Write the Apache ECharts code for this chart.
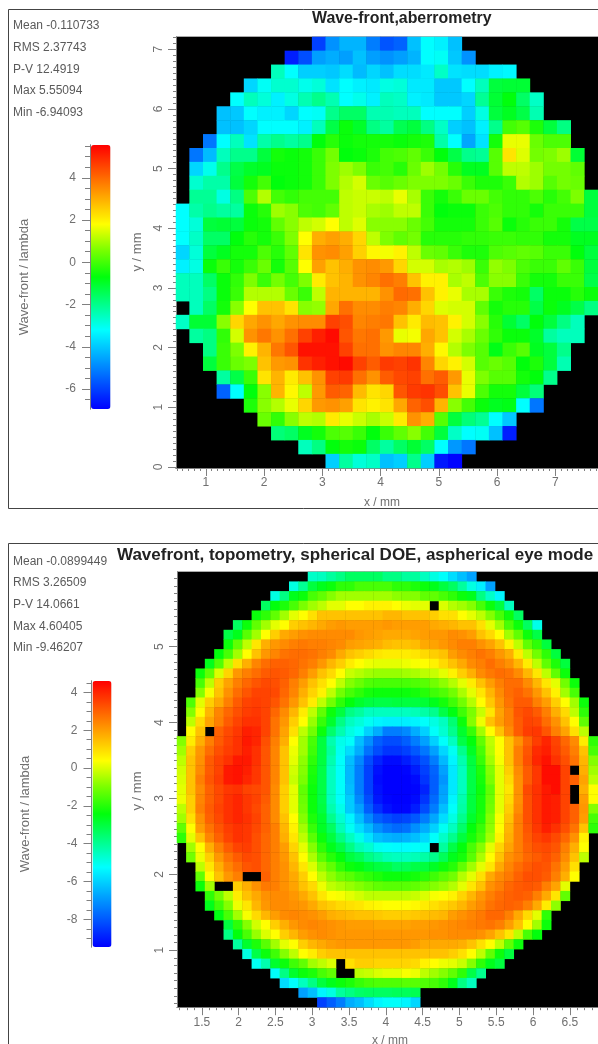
<!DOCTYPE html>
<html><head><meta charset="utf-8">
<style>html,body{margin:0;padding:0;background:#fff;overflow:hidden}#c{width:598px;height:1044px}</style>
<script src="https://cdn.jsdelivr.net/npm/echarts@6/dist/echarts.min.js"></script>
</head><body><div id="c"></div>
<script>
const _ = null;
// Colour scale shared by both maps (blue -> cyan -> green -> yellow -> red)
const colorStops = ['#0000ff','#0055ff','#00aaff','#00ffff','#00ff86','#00ff0c','#78ff00','#ffff00','#ffaa00','#ff5500','#ff0000'];

const frontTitle = 'Wave-front,aberrometry';
const frontStats = ['Mean -0.110733','RMS 2.37743','P-V 12.4919','Max 5.55094','Min -6.94093'];
const frontMin = -6.94093, frontMax = 5.55094;
const frontXTicks = [1,2,3,4,5,6,7];
const frontYTicks = [0,1,2,3,4,5,6,7];
const frontBarTicks = [-6,-4,-2,0,2,4];
// first occupied column of each row, top row first
const frontStart = [10,8,7,5,4,3,3,2,1,1,1,1,0,0,0,0,0,0,0,1,0,1,2,2,3,3,5,6,7,9,11];
const frontRows = [
[-6,-4.8,-4.3,-4.3,-5.1,-5.7,-5.5,-4.1,-3.2,-3.4,-4.1],
[-6.5,-5.8,-4.6,-4.4,-4.6,-4.1,-4.6,-4.8,-4.6,-4.3,-3.2,-3.1,-4,-4.8],
[-2.5,-3.2,-3.9,-3.9,-4,-3.7,-4.2,-3.8,-4.1,-3.7,-3.7,-3.5,-2.6,-3.6,-3.7,-3.7,-3.4,-3.3],
[-3.8,-3.1,-2.7,-2.7,-3,-2.8,-3.6,-3.2,-3.4,-3.5,-2.9,-2.8,-3.5,-3.5,-4,-4,-3.2,-2.5,-1.2,-1.1,-1.1],
[-3.2,-2.5,-2.8,-3.4,-2.9,-2.4,-2,-2.4,-3.2,-3,-3.4,-2.5,-2.6,-3.4,-3.5,-4,-4,-3.8,-2.1,-1.1,-.7,-1.6,-2.6],
[-4.1,-4,-3.2,-3.4,-3.4,-3.8,-3.2,-3.1,-2,-1.6,-1.6,-2.4,-2.4,-2.5,-2.5,-3.2,-3.2,-3.2,-3.9,-2.9,-1.2,-.9,-1.3,-2.4],
[-4.1,-4.1,-3.8,-3.2,-3.2,-3.2,-3.4,-2.5,-1.3,-.6,-1,-1.9,-2.2,-1.4,-1.2,-1.9,-2.6,-3.9,-4.1,-3.4,-2,0,.2,-.4,-1.2,-1.9],
[-5.2,-3.2,-2.5,-3.6,-2.3,-2,-2.2,-2,-.7,-.3,-.6,-.5,-.5,-.5,-.6,-.5,-.4,-2.3,-3.2,-4.5,-3.6,-.5,1.6,1.6,.4,.1,.1],
[-5.2,-4.2,-2.5,-2,-2,-1.2,-.5,-.6,-.5,-.1,.5,-.7,-.6,-.4,0,.1,.3,-.1,-.7,-1.3,-2,-2.1,.2,2.2,1.5,.5,.6,.9,-1.1],
[-3.8,-3,-2,-1.3,-1,-.9,-.6,-.6,-.5,-.1,.6,.9,.6,-.1,0,-.3,.4,.9,.5,-.3,-.9,-.9,.2,1.2,1.2,.9,.5,.5,.3],
[-2.7,-2.3,-2.3,-1.2,-.5,0,-.7,-.6,-.5,-.1,.6,1.1,1.4,.4,.2,.4,.6,.6,.6,.4,-.1,-.4,-.4,-.1,1.1,.9,.2,.5,.4],
[-2.1,-2.1,-2.9,-1.9,.1,1.1,0,-.2,0,0,0,1.2,1.3,1.3,1.2,1.6,1,-.1,-.5,-.1,.4,.4,0,-.2,-.2,.1,-.3,0,.6,-1.2],
[-3.2,-2.3,-2,-2.2,-2.2,-.6,-.3,.9,.7,.1,0,.3,1.2,1.3,1,.9,1.2,1.2,-.1,-.7,-.6,-.6,-.1,.1,-.2,-.2,-.5,-.1,-.1,-.1,-1.2],
[-3.2,-2.8,-1.2,-1.1,-1.2,-.6,-.5,.3,.7,1.2,1.4,1.8,1.2,1.5,.7,.7,.7,.4,0,-.5,-.5,-.5,-.1,.2,-.6,-.3,-.1,-.1,-.5,-1.3,-1.3],
[-3.2,-2.6,-1.6,-1.6,-.7,-.3,-.5,-.1,.6,1.8,3,3.2,3,2.4,1.2,.6,.3,.5,-.3,-.3,-.3,-.2,-.2,-.1,-.1,-.2,-.2,-.5,-.5,-.9,-.9],
[-3.8,-2.8,-1.2,-.9,-.5,-.5,.1,-.3,.3,2.2,3.4,3.5,3.2,2.5,1.9,1.7,2,1.2,.4,.3,-.1,-.4,-.4,.1,.2,.3,.2,-.1,-.1,-.7,-1.2],
[-3.4,-2.9,-.6,-.1,-.5,-.1,.4,-.5,.2,1.8,3.2,2.7,3,3.4,3.5,3.3,2.4,1.4,1.4,1,1.1,.9,-.1,.8,.6,.1,-.1,-.1,.3,-.1,-1.2],
[-2.5,-2.5,-1.6,-.6,-.2,.6,-.1,.5,0,.6,2.1,2.7,2.9,3.4,3.6,3.9,3.7,2.7,2,2,1,1.2,.1,.7,.7,-.1,-.5,-.5,-.1,-.1,-1.3],
[-2.5,-2.5,-1.9,-.6,-.1,1.1,1.1,1.1,.4,-.1,1.2,2.9,2.9,2.9,2.9,3.4,4,3.9,2.7,2,1.6,1,1,-.1,-.4,-.5,-1.6,-.6,-.6,-.3,-.6],
[-2.5,-1.6,-.5,.7,1.8,2.7,2.7,2.2,.7,.8,3.1,3.9,3.5,3.5,3.7,3.6,3,2.4,1.5,1.4,1.4,.3,-.5,-.3,-.3,-1.3,-.6,-.9,-1.3,-1.9],
[-2.6,-1.1,-1.1,.7,2.4,3.1,3.4,3.1,3.4,3.5,3.5,4.6,4.4,3.6,3.7,3.8,2.7,2.1,2.8,2.7,2,1.4,.7,-.3,-1.1,-1.6,-.7,-1.2,-1.9,-2.5],
[-2.2,-1.9,-.2,1.4,3.4,3.8,3.4,3.9,4.6,5.1,5.4,4.3,3.8,3.9,3.3,1.6,1.7,3.1,2.7,1.4,1,.4,-.2,-.6,-.6,-1,-2.2,-2.5,-2.5],
[-1.9,-.1,.6,2,2.9,3.8,4.3,5.3,5.3,5.3,4.6,3.9,3.9,3.4,3.6,3.6,3,1.9,1.1,.6,.2,-.8,-.1,.2,-.9,-1.2,-2],
[-1.2,-.1,.4,.6,2.7,3.3,3.4,4.8,5.1,5.3,5.4,4.6,4.2,4.7,4.6,4.8,3.6,2.4,2,1.4,.2,.4,.2,-.7,-.4,-1.2,-2.4],
[-2.2,-1.3,-.1,2.2,2.9,2.1,2.7,3.4,4.6,4.7,3.9,3.4,4.2,4.5,4.6,3.9,4.2,3.3,1.6,.6,.2,.2,-.5,-.7,-2],
[-5.5,-3.2,-.7,.7,2.9,1.9,1.2,3.3,4.2,4.1,2.8,2.2,2.4,4.3,4.7,4.8,4.4,2.7,1.6,.1,-.5,-.5,-1.2,-1.8],
[-.4,.7,1.1,1.6,2.4,3.3,3.4,3.2,2.2,2,2.2,3.1,4.1,4.4,2.9,.7,0,-.6,-.9,-.8,-3.2,-5.2],
[.4,-.2,.7,1.2,1.1,2.1,1.6,1.3,1,1.3,2.1,3.4,3,.2,-1.2,-1.8,-2.1,-3.2,-4],
[-1.8,-1.6,-.9,-.5,.1,.2,-.1,-.7,-.1,.3,.7,0,-1.2,-2.6,-3.2,-3.1,-4.1,-6.5],
[-2.5,-1.9,-.7,-.5,-.6,-1.6,-2.2,-1.6,-1.1,-1.6,-3.2,-4.7,-5.2],
[-3.9,-2.2,-2.8,-2.6,-4.1,-3.9,-2,-3.9,-6.6,-6.9]
];

const topoTitle = 'Wavefront, topometry, spherical DOE, aspherical eye mode';
const topoStats = ['Mean -0.0899449','RMS 3.26509','P-V 14.0661','Max 4.60405','Min -9.46207'];
const topoMin = -9.46207, topoMax = 4.60405;
const topoXTicks = [1.5,2,2.5,3,3.5,4,4.5,5,5.5,6,6.5];
const topoYTicks = [1,2,3,4,5];
const topoBarTicks = [-8,-6,-4,-2,0,2,4];
const topoStart = [14,12,10,9,8,6,5,5,4,3,2,2,2,1,1,1,1,0,0,0,0,0,0,0,0,0,0,0,1,1,2,2,2,3,3,4,5,5,6,7,8,10,11,13,15];
const topoRows = [
[-4.6,-4.5,-4.1,-3.8,-3.4,-3.4,-3.4,-3.4,-3.8,-3.8,-4.1,-4.1,-4.5,-4.9,-5.2,-5.8,-6.3,-6.8],
[-4.9,-4,-3,-2.6,-2.3,-1.9,-1.9,-1.6,-1.6,-1.6,-1.6,-1.9,-1.9,-2.1,-2.3,-2.6,-3,-3.4,-4.1,-4.9,-5.5,-6.8],
[-4.9,-3.8,-2.6,-2.3,-1.6,-1.3,-.9,-.6,-.6,-.6,-.6,-.6,-.6,-.8,-.9,-.9,-1.3,-1.3,-1.6,-1.9,-2.3,-2.6,-3.8,-4.6,-5.4],
[-3.4,-2.4,-2.1,-1.6,-1,-.6,-.3,.1,.1,.4,.4,.6,.6,.6,.4,.2,.1,.1,_,0,-.4,-.6,-.9,-1.6,-2.3,-3,-4.5],
[-2.3,-1.9,-1.3,-.6,.1,.4,.9,1.4,1.4,1.4,1.4,1.4,1.4,1.4,1.6,1.6,1.4,1.4,1.4,1.2,.9,.9,.4,.1,-.3,-.9,-1.6,-2.3,-3.4],
[-3.4,-2.3,-1.3,-.6,.1,.4,1.2,1.4,1.6,1.8,2,2.1,2,2,2,2,2.1,2,2,2,2,1.8,1.7,1.6,1.4,1.4,.9,.1,-.6,-1.6,-2.3,-3.4,-5],
[-3.1,-2.6,-1.4,-.6,.4,1.2,1.8,2,2.2,2.3,2.3,2.3,2.3,2.3,2.1,2,1.9,1.8,1.8,1.8,1.9,2,2.1,2.1,2.3,2.2,2,1.4,1,.4,-.6,-1.3,-2.3,-3.1],
[-2.3,-1.3,-.3,.8,1.7,2.1,2.3,2.5,2.6,2.5,2.5,2.4,2.3,2,1.9,1.8,1.7,1.5,1.4,1.4,1.5,1.8,1.9,2.1,2.3,2.5,2.5,2.2,1.9,1.4,.6,-.3,-1.3,-1.9,-3],
[-2.4,-1.6,-.6,.4,1.4,2.1,2.4,2.7,2.8,2.8,2.7,2.5,2.3,1.8,1.4,1.2,1,.8,.7,.7,.7,.8,1,1.2,1.4,2,2.3,2.5,2.7,2.5,2.1,1.7,.7,-.3,-1.1,-1.9,-3],
[-2.6,-1.5,-.3,.9,1.7,2.4,2.8,3,3,2.9,2.7,2.5,2.1,1.6,1.2,.7,.4,.2,.1,.1,.1,.2,.3,.4,.6,1,1.4,1.8,2.3,2.5,2.8,2.5,2.2,1.6,.7,-.3,-1.3,-2.1,-3],
[-2.3,-1.3,0,1.1,2.1,2.5,2.8,3.1,3.2,3.1,2.9,2.5,2,1.4,1,.4,-.2,-.4,-.6,-.7,-.7,-.7,-.6,-.5,-.3,-.2,.1,.6,1.2,1.7,2.3,2.6,2.8,2.7,2.3,1.6,.8,-.3,-1.3,-2.3],
[-1.6,-.3,1.2,1.9,2.5,2.9,3.2,3.4,3.3,3,2.5,2,1.4,.9,.4,-.3,-.9,-1.2,-1.5,-1.6,-1.6,-1.6,-1.6,-1.5,-1.4,-1.1,-.8,-.4,.1,.7,1.4,2,2.5,2.8,2.8,2.3,1.6,.8,.1,-1.1,-2.3],
[-.9,.3,1.4,2.2,2.8,3.2,3.5,3.5,3.4,2.9,2.4,1.7,1.1,.6,-.3,-1.1,-1.6,-1.9,-2.2,-2.3,-2.3,-2.3,-2.3,-2.2,-2,-1.7,-1.5,-1.1,-.5,.1,.8,1.6,2.3,2.8,3,2.7,2.1,1.4,.6,-.6,-1.6],
[-1.5,.1,1.2,1.8,2.5,3.1,3.5,3.6,3.5,3.2,2.7,2.1,1.4,.7,-.3,-1.1,-1.9,-2.4,-2.8,-3,-3.1,-3.1,-3,-3,-3,-2.9,-2.6,-2.2,-1.7,-1.1,-.4,.4,1.3,2.1,2.7,3.1,3.1,2.5,2,1.2,.4,-.6,-2.3],
[-.9,.4,1.6,2.4,2.9,3.3,3.6,3.7,3.5,2.9,2.3,1.6,.7,-.3,-1.3,-2.3,-3,-3.8,-4.1,-4.5,-4.5,-4.5,-4.5,-4.5,-4.4,-4.2,-3.9,-3.1,-2.5,-1.7,-1,-.2,.8,1.9,2.5,3.2,3.4,3.1,2.5,1.7,1,-.3,-1.9],
[-.3,1,1.9,2.5,3.1,3.5,3.8,3.8,3.5,2.7,2.1,1.2,.4,-.7,-1.8,-2.8,-3.8,-4.5,-4.8,-5.1,-5.4,-5.5,-5.5,-5.5,-5.4,-5.2,-4.9,-4.5,-3.6,-2.3,-.9,.2,1.4,2,2.5,3.1,3.5,3.4,2.8,2.2,1.4,.4,-1.3],
[.4,1.4,_,3,3.4,3.7,4.1,4,3.5,2.7,1.9,.9,-.3,-1.1,-2.3,-3.5,-4.3,-4.9,-5.2,-6,-6.6,-7.4,-7.4,-7.2,-6.6,-6,-5.2,-4.7,-3.9,-2.8,-1.8,-.6,.4,1.4,2.3,3.1,3.6,3.7,3.2,2.5,1.9,.9,-.3],
[-.9,.7,1.7,2.5,3.1,3.5,3.8,4.2,4,3.3,2.5,1.7,.4,-.6,-1.6,-3,-4.3,-5,-5.2,-6.3,-7.1,-7.9,-8.2,-8.2,-7.9,-7.4,-6.8,-6,-5.2,-4.5,-3.1,-2.4,-1.3,-.3,.4,1.4,2.2,3,3.6,4,3.5,2.9,2.3,.7,-1.9],
[-.6,1.2,2.1,2.8,3.3,3.6,3.8,4.1,3.8,3.2,2.4,1.4,.2,-.6,-1.7,-3,-4.1,-5.1,-5.8,-6.6,-7.6,-8.2,-8.6,-8.6,-8.4,-8,-7.5,-6.8,-5.9,-5.1,-3.9,-2.7,-1.6,-.4,.4,1.4,2.5,3.2,3.9,4.1,3.6,3.1,2.5,1.4,-1.6],
[-.3,1.4,2.2,3.1,3.5,3.8,4.2,4.2,3.8,3.2,2.4,1.4,.1,-.8,-1.9,-3,-4.3,-5.2,-6.3,-7.2,-8.2,-8.9,-9.3,-9.3,-9,-8.6,-8.1,-7.4,-6.4,-5.4,-4.3,-3,-1.8,-.6,.3,1.4,2.5,3.3,4,4.3,3.8,3.3,2.7,1.6,-.9],
[-.1,1.4,2.3,3.1,3.5,4.2,4.3,4.1,3.7,3.2,2.4,1.4,-.1,-.9,-2.1,-3.1,-4.5,-5.2,-6.4,-7.4,-8.4,-9.2,-9.5,-9.5,-9.4,-9,-8.4,-7.8,-6.8,-5.6,-4.5,-3.1,-2.1,-.9,.1,1.2,2.3,3.1,3.7,4.4,4.4,3.5,_,1.7,-.6],
[0,1.4,2.5,3.2,3.6,4.2,4.3,4,3.7,3.2,2.4,1.4,-.2,-1,-2.2,-3.1,-4.5,-5.2,-6.4,-7.4,-8.4,-9.3,-9.5,-9.5,-9.5,-9.3,-8.6,-7.9,-7,-5.6,-4.5,-3.1,-2.2,-1,.1,1,2.2,3.1,3.7,4.4,4.4,3.5,3,1.9,-.3],
[.1,1.4,2.3,3,3.4,3.7,3.8,3.5,3.4,3.2,2.3,1.2,.1,-1.3,-2.3,-3.1,-4.5,-5.2,-6.3,-7.4,-8.4,-9.2,-9.5,-9.5,-9.5,-9.4,-8.9,-7.9,-6.8,-5.6,-4.5,-3.1,-2.3,-1.3,.1,.8,2.2,3.4,3.8,4.2,4.4,3.5,_,1.7,.4],
[.2,1.2,2.4,3,3.4,3.8,4,3.7,3.5,3.1,2.3,1.2,.1,-1.2,-2.3,-3.1,-4.5,-5.2,-6.1,-7.2,-8.2,-9.1,-9.4,-9.5,-9.5,-9.3,-8.6,-7.7,-6.7,-5.4,-4.3,-3,-2.2,-1.2,.1,1,2.2,3.3,3.8,4.2,4.1,3.5,_,2,.4],
[-.3,1.2,2.5,3.1,3.5,3.8,4,3.7,3.4,3,2.3,1.2,.1,-1.1,-2.3,-3,-4.3,-5,-6.1,-6.8,-7.9,-8.7,-9.2,-9.4,-9.4,-9,-8.2,-7.4,-6.3,-5.2,-4.2,-3,-2.2,-1.1,.1,1.2,2.3,3.3,3.8,4.2,4.1,3.5,3,2.1,-.9],
[-.6,.9,2.2,3,3.4,3.8,4,3.8,3.5,3,2.3,1.4,.4,-.9,-2.1,-2.8,-3.9,-4.7,-5.4,-6.3,-7.2,-7.9,-8.2,-8.4,-8.3,-8,-7.4,-6.7,-5.8,-4.9,-3.9,-2.8,-2.1,-.9,.3,1.4,2.5,3.3,3.8,4.2,4.1,3.5,3,2,-1.6],
[-1.3,.4,2,2.7,3.2,3.6,3.8,3.7,3.4,3,2.5,1.6,.6,-.6,-1.8,-2.7,-3.4,-4.4,-5.1,-5.8,-6.4,-7.1,-7.5,-7.7,-7.6,-7.1,-6.6,-6,-5.1,-4.5,-3.5,-2.4,-1.8,-.8,.4,1.6,2.5,3.2,3.7,4.1,3.8,3.3,2.7,1.4,-1.9],
[-1.9,.1,1.4,2.4,3,3.5,3.8,3.7,3.3,2.9,2.5,1.7,.8,-.3,-1.4,-2.3,-3,-3.8,-4.5,-5,-5.7,-6.3,-6.5,-6.6,-6.5,-6.3,-5.9,-5.2,-4.6,-3.9,-3,-2.2,-1.6,-.6,.6,1.7,2.5,3.1,3.5,3.7,3.4,2.9,2.2,.6],
[-.6,.4,1.7,2.5,3.1,3.5,3.6,3.3,2.9,2.5,2,1.1,.1,-.9,-1.9,-2.6,-3.1,-3.8,-4.4,-4.7,-5.1,-5.2,-5.3,-5.3,-5.2,-5.1,_,-4.1,-3.1,-2.4,-1.6,-.9,.1,1.1,1.9,2.5,3,3.3,3.4,3.2,2.5,1.7,.4],
[-1.1,.2,1.2,2.1,2.7,3.1,3.4,3.3,2.9,2.5,2.1,1.4,.4,-.5,-1.4,-2,-2.4,-3,-3.3,-3.8,-4.1,-4.4,-4.5,-4.5,-4.4,-4.2,-3.9,-3.3,-2.6,-2.2,-1.4,-.5,.4,1.4,2.2,2.5,2.9,3.1,3.3,3,2.3,1.4,-.3],
[-.3,.8,1.7,2.4,2.8,3.2,3.3,2.9,2.5,2.2,1.6,.8,0,-.8,-1.3,-1.9,-2.3,-2.5,-2.8,-3,-3.1,-3.4,-3.3,-3.1,-3,-2.7,-2.3,-2,-1.3,-.6,.1,.8,1.8,2.4,2.8,3.1,3.3,3.2,2.7,2,.9],
[-1.3,.4,1.4,2.1,2.5,_,_,3,2.5,2.2,1.8,1.2,.4,-.3,-.8,-1.2,-1.4,-1.7,-1.9,-2.1,-2.3,-2.3,-2.3,-2.2,-2,-1.7,-1.4,-1.1,-.4,.1,.9,1.8,2.3,2.6,3,3.3,3.3,3.1,2.5,1.7,.4],
[-2.3,-.6,_,_,1.2,1.7,2.2,2.6,2.5,2.2,1.9,1.4,1,.2,-.3,-.5,-.7,-.9,-1.1,-1.3,-1.4,-1.4,-1.4,-1.3,-1.1,-.9,-.7,-.4,.1,.8,1.4,2.2,2.5,2.9,3.1,3.2,3.1,2.5,1.9,.1],
[-1.9,-1.1,-.3,.7,1.4,1.8,2.2,2.3,2.3,2.1,1.8,1.4,.8,.4,.3,.1,-.1,-.3,-.3,-.3,-.3,-.3,-.2,0,.3,.4,.6,1.1,1.6,2.1,2.5,2.8,3,3.1,3,2.5,1.8,.8,-1.3],
[-2.6,-1.7,-.9,.2,.8,1.6,2.1,2.3,2.3,2.2,2.1,1.8,1.4,1.2,1,.9,.8,.6,.5,.4,.4,.4,.5,.7,.9,1.1,1.3,1.6,2,2.3,2.7,2.9,3,2.9,2.5,1.8,.7,-.8],
[-2.5,-1.6,-.6,.3,1,1.6,2,2.3,2.4,2.3,2.2,2,1.7,1.6,1.5,1.4,1.4,1.3,1.2,1.2,1.2,1.3,1.4,1.5,1.6,2,2.2,2.4,2.6,2.9,2.9,2.5,1.8,1,.1,-1.9],
[-3,-1.9,-.9,-.1,.4,1.2,1.7,2.1,2.3,2.4,2.3,2.2,2.1,2,2,2,1.9,1.9,1.9,1.9,2,2,2.1,2.2,2.3,2.4,2.5,2.6,2.7,2.5,2,1.4,.4,-.6,-2.3],
[-3.8,-2.4,-1.6,-.7,0,.4,1.2,1.6,2,2.2,2.3,2.2,2.1,2.1,2.1,2.1,2.1,2.1,2.1,2.1,2.1,2.1,2.2,2.2,2.3,2.3,2.3,2.2,1.9,1.4,.8,-.3,-1.6,-2.4],
[-4.1,-2.8,-2.1,-1.4,-.6,.1,.4,1.2,1.6,1.8,2,2.1,2.1,2.1,2.1,2.1,2.1,2.1,2.1,2,1.8,1.8,1.8,1.8,1.7,1.4,.9,.4,-.3,-1.3,-2.3],
[-4.9,-3.1,-2.3,-1.7,-.9,-.3,.4,.7,1.2,1.4,1.4,1.4,1.4,1.4,1.4,1.4,1.4,1.4,1.4,1.4,1.4,1.4,1.2,.9,.4,-.3,-1.3,-2.3,-3],
[-5.1,-4.3,-2.8,-2.3,-1.7,-1.3,-.6,-.3,0,_,.9,1.2,1.2,1.1,1.1,1.1,1.1,1,.6,.4,.2,.1,-.2,-.9,-1.9,-2.6,-3],
[-5.2,-3.8,-2.8,-2.3,-2.1,-1.6,-1.3,_,_,-.3,-.2,0,.1,.1,.3,.2,-.3,-.6,-.9,-1.3,-1.9,-3.1,-3.9],
[-5.8,-5.2,-4.5,-3.8,-3,-2.6,-2.3,-2.1,-1.8,-1.6,-1.5,-1.5,-1.5,-1.4,-1.4,-1.5,-1.6,-1.9,-2.6,-3.8,-4.5],
[-6.8,-6.3,-5.4,-4.9,-4.1,-3.8,-3.5,-3.4,-3.4,-3.4,-3.3,-3.3,-3.2],
[-8.4,-7.9,-7.4,-6.6,-6.3,-5.8,-5.4,-5.2,-5.2,-5.4,-5.9]
];

const FONT = 'Liberation Sans, Arial, sans-serif';
const INK = '#707070', LINE = '#808080';

function cells(rows, start){
  const out = [];
  rows.forEach((row, r) => row.forEach((v, i) => { if (v !== null) out.push([start[r] + i, r, v]); }));
  return out;
}
function steps(a, b, d){ const o = []; for (let i = Math.ceil(a/d - 1e-9); i*d <= b + 1e-9; i++) o.push(+(i*d).toFixed(3)); return o; }
const seq = n => Array.from({length:n}, (_, i) => String(i));

const option = { animation:false, backgroundColor:'#fff', textStyle:{fontFamily:FONT},
  grid:[], xAxis:[], yAxis:[], series:[], visualMap:[], title:[], graphic:[] };

function valueAxis(grid, pos, min, max, major, minor, rotate, gap, minorLen){
  const base = {type:'value', gridIndex:grid, position:pos, min, max, splitLine:{show:false}, scale:true,
    axisLine:{show:true, onZero:false, lineStyle:{color:LINE}}};
  return [
    Object.assign({}, base, {
      axisTick:{show:true, length:8, lineStyle:{color:LINE}, customValues:major},
      axisLabel:{show:true, color:INK, fontSize:12, fontFamily:FONT, rotate, margin:gap, customValues:major, formatter:v=>String(v)}
    }),
    Object.assign({}, base, {
      axisTick:{show:true, length:minorLen, lineStyle:{color:LINE}, customValues:minor},
      axisLabel:{show:false}
    })
  ];
}

function panel(o){
  const g = option.grid.length;
  option.grid.push({left:o.left, top:o.top, width:o.width, height:o.height, show:true, backgroundColor:'#000', borderWidth:0, containLabel:false});
  const xi = option.xAxis.length, yi = option.yAxis.length;
  option.xAxis.push({type:'category', gridIndex:g, data:seq(o.cols), show:false});
  option.yAxis.push({type:'category', gridIndex:g, data:seq(o.rows.length), show:false, inverse:true});
  option.xAxis.push(...valueAxis(g,'bottom',o.xMin,o.xMax,o.xTicks,steps(o.xMin,o.xMax,0.1),0,o.xLabelGap,3));
  option.yAxis.push(...valueAxis(g,'left',o.yMin,o.yMax,o.yTicks,steps(o.yMin,o.yMax,0.1),90,o.yLabelGap,3));
  const si = option.series.length;
  option.series.push({type:'heatmap', xAxisIndex:xi, yAxisIndex:yi, data:cells(o.rows,o.start), progressive:0, silent:true, itemStyle:{borderWidth:0}, emphasis:{disabled:true}});
  option.visualMap.push({type:'continuous', seriesIndex:si, min:o.min, max:o.max, show:true, left:o.barLeft, top:o.barTop, itemWidth:o.barWidth, itemHeight:o.barHeight,
    padding:0, text:null, calculable:false, hoverLink:false, realtime:false, inRange:{color:colorStops}, textStyle:{color:'transparent'}});
  // axis for the colour bar
  const b = option.grid.length;
  option.grid.push({left:o.barLeft-1, top:o.barTop, width:1, height:o.barHeight, show:false});
  option.xAxis.push({type:'value', gridIndex:b, min:0, max:1, show:false});
  option.yAxis.push(...valueAxis(b,'left',o.min,o.max,o.barTicks,steps(o.min,o.max,0.5),0,o.barGap,5));
  option.title.push({text:o.title, left:o.titleX, top:o.titleY, textStyle:{fontFamily:FONT, fontWeight:'bold', fontSize:o.titleSize, color:'#222'}, padding:0});
  o.stats.forEach((s,i)=> option.graphic.push({type:'text', left:13, top:o.statsTop + i*21.6, style:{text:s, font:'12px '+FONT, fill:'#5a5a5a'}}));
  option.graphic.push(
    {type:'text', left:o.xNameX, top:o.xNameY, style:{text:'x / mm', font:'12px '+FONT, fill:INK}},
    {type:'text', x:o.yNameX, y:o.yNameY, rotation:Math.PI/2, style:{text:'y / mm', font:'13px '+FONT, fill:INK, textAlign:'center', textVerticalAlign:'middle'}},
    {type:'text', x:o.barNameX, y:o.barNameY, rotation:Math.PI/2, style:{text:'Wave-front / lambda', font:'13px '+FONT, fill:INK, textAlign:'center', textVerticalAlign:'middle'}},
    {type:'line', shape:{x1:o.left, y1:o.top-0.5, x2:598, y2:o.top-0.5}, style:{stroke:'#aaa', lineWidth:1}}
  );
}

option.graphic.push(
  {type:'rect', z:-1, shape:{x:8.5,y:9.5,width:640,height:499}, style:{fill:'none', stroke:'#444', lineWidth:1}},
  {type:'rect', z:-1, shape:{x:8.5,y:543.5,width:640,height:560}, style:{fill:'none', stroke:'#444', lineWidth:1}}
);

panel({left:176, top:37, width:423.6, height:431, cols:31, rows:frontRows, start:frontStart, min:frontMin, max:frontMax,
  xMin:0.487, xMax:7.734, yMin:-0.02, yMax:7.206, xTicks:frontXTicks, yTicks:frontYTicks, xLabelGap:9, yLabelGap:11,
  barLeft:91, barTop:145, barWidth:19.5, barHeight:264, barTicks:frontBarTicks, barGap:14,
  title:frontTitle, titleX:312, titleY:11, titleSize:15.9, stats:frontStats, statsTop:20,
  xNameX:364, xNameY:497, yNameX:137, yNameY:252, barNameX:24, barNameY:277});
panel({left:177, top:572, width:424.4, height:435.2, cols:45, rows:topoRows, start:topoStart, min:topoMin, max:topoMax,
  xMin:1.163, xMax:6.883, yMin:0.25, yMax:5.985, xTicks:topoXTicks, yTicks:topoYTicks, xLabelGap:9, yLabelGap:11,
  barLeft:92.5, barTop:681, barWidth:19, barHeight:266, barTicks:topoBarTicks, barGap:14,
  title:topoTitle, titleX:117, titleY:547, titleSize:17, stats:topoStats, statsTop:555.5,
  xNameX:372, xNameY:1035, yNameX:137, yNameY:791, barNameX:25, barNameY:814});

const chart = echarts.init(document.getElementById('c'), null, {renderer:'canvas', width:598, height:1044});
chart.setOption(option);
</script></body></html>
